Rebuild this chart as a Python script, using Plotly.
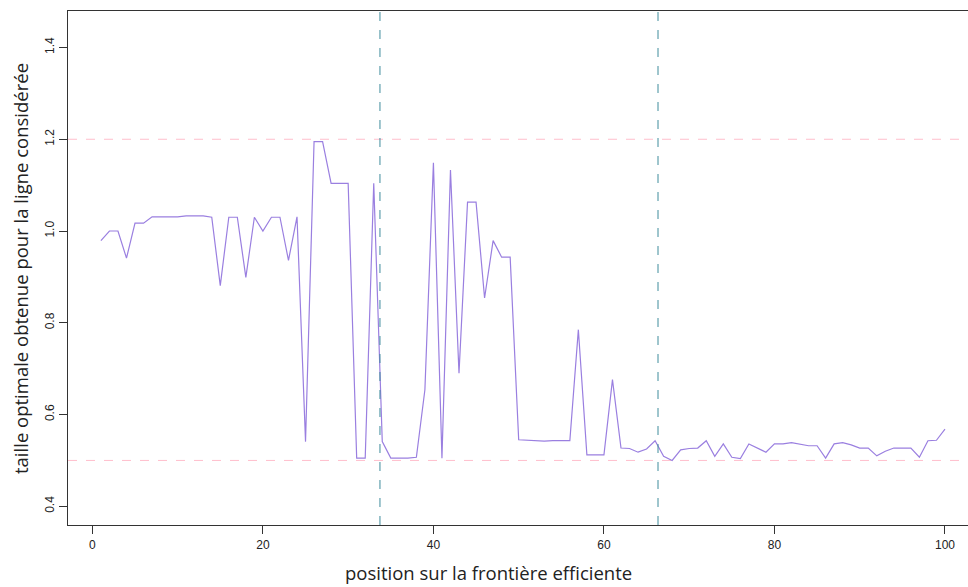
import plotly.graph_objects as go

positions = list(range(1, 101))
taille = [
    0.979, 1.000, 1.000, 0.941, 1.017, 1.017, 1.031, 1.031, 1.031, 1.031,
    1.033, 1.033, 1.033, 1.030, 0.881, 1.030, 1.030, 0.899, 1.030, 1.000,
    1.030, 1.030, 0.936, 1.031, 0.541, 1.195, 1.195, 1.104, 1.104, 1.104,
    0.505, 0.505, 1.104, 0.541, 0.505, 0.505, 0.505, 0.507, 0.654, 1.149,
    0.505, 1.133, 0.690, 1.063, 1.063, 0.854, 0.979, 0.943, 0.943, 0.545,
    0.544, 0.544, 0.542, 0.543, 0.543, 0.543, 0.785, 0.512, 0.512, 0.512,
    0.676, 0.527, 0.526, 0.518, 0.525, 0.543, 0.509, 0.500, 0.523, 0.526,
    0.527, 0.543, 0.509, 0.536, 0.507, 0.504, 0.536, 0.527, 0.518, 0.536,
    0.536, 0.539, 0.536, 0.532, 0.532, 0.505, 0.536, 0.539, 0.534, 0.527,
    0.527, 0.510, 0.520, 0.527, 0.527, 0.527, 0.507, 0.543, 0.544, 0.568,
]
h_lines = [0.5, 1.2]
v_lines = [33.73, 66.34]
x_ticks = [0, 20, 40, 60, 80, 100]
y_ticks = [0.4, 0.6, 0.8, 1.0, 1.2, 1.4]
x_title = "position sur la frontière efficiente"
y_title = "taille optimale obtenue pour la ligne considérée"

fig = go.Figure()
fig.add_trace(go.Scatter(x=positions, y=taille, mode="lines",
                         line=dict(color="#9a7fe0", width=1.2), showlegend=False))

for h in h_lines:
    fig.add_shape(type="line", xref="paper", x0=0, x1=1, yref="y", y0=h, y1=h,
                  line=dict(color="#ffbfcc", width=1, dash="dash"), layer="below")
for v in v_lines:
    fig.add_shape(type="line", xref="x", x0=v, x1=v, yref="paper", y0=0, y1=1,
                  line=dict(color="#3f8c9c", width=1, dash="dash"))

tick_font = dict(family="Liberation Sans Narrow, Liberation Sans, Arial, sans-serif",
                 size=12, color="#222222")
title_font = dict(family="Open Sans, sans-serif", size=18.5, color="#222222")

fig.update_layout(
    width=968, height=587,
    margin=dict(l=68, r=0, t=11, b=62),
    paper_bgcolor="white", plot_bgcolor="white",
    xaxis=dict(range=[-2.86, 102.7], tickvals=x_ticks, ticks="outside", ticklen=8,
               tickcolor="#333333", tickwidth=1, showline=True, mirror=True,
               linecolor="#333333", linewidth=1.3, showgrid=False, zeroline=False,
               tickfont=tick_font),
    yaxis=dict(range=[0.3593, 1.4795], tickvals=y_ticks, tickformat=".1f",
               ticks="outside", ticklen=8, tickcolor="#333333", tickwidth=1,
               showline=True, mirror=False, linecolor="#333333", linewidth=1.3,
               showgrid=False, zeroline=False, tickangle=-90, tickfont=tick_font),
    annotations=[
        dict(text=x_title, xref="paper", yref="paper", x=(488 - 68) / 900, y=0,
             yshift=-47, xanchor="center", yanchor="middle", showarrow=False,
             font=title_font),
        dict(text=y_title, xref="paper", yref="paper", x=0, xshift=-48,
             y=(525 - 269) / 514, xanchor="center", yanchor="middle", textangle=-90,
             showarrow=False, font=title_font),
    ],
)

fig.write_html("out.html")
